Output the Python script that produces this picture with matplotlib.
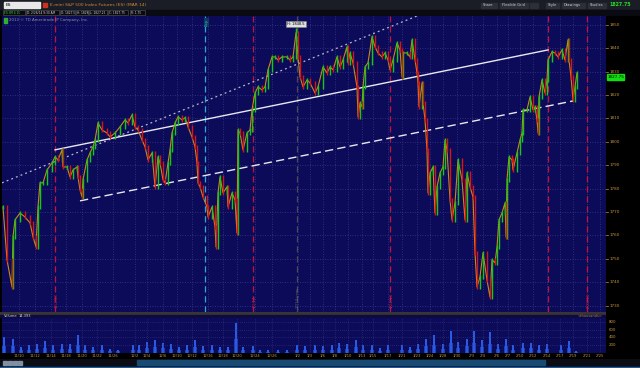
import numpy as np
import matplotlib.pyplot as plt
from matplotlib.patches import Rectangle

W, H = 640, 368

# price path: chart column -> close (index points)
bar_x = [3, 7, 12, 13, 15, 20, 25, 30, 33, 36, 38, 40, 43, 47, 52, 55, 58, 62, 63, 67,
         70, 73, 77, 78, 80, 82, 83, 87, 90, 93, 95, 98, 102, 107, 110, 115, 120, 125, 128, 132,
         135, 138, 142, 145, 148, 152, 155, 158, 160, 163, 165, 168, 170, 172, 175, 178, 182, 185, 188, 192,
         195, 197, 198, 200, 203, 207, 208, 212, 215, 216, 218, 220, 223, 227, 228, 232, 235, 237, 238, 240,
         243, 247, 250, 252, 255, 258, 262, 265, 268, 272, 275, 278, 282, 287, 290, 293, 296, 298, 300, 303,
         307, 310, 315, 318, 323, 327, 330, 333, 337, 340, 343, 347, 348, 350, 353, 357, 358, 360, 362, 363,
         365, 368, 372, 375, 378, 382, 385, 388, 390, 393, 397, 400, 402, 403, 407, 410, 412, 415, 417, 418,
         419, 422, 423, 425, 427, 428, 430, 433, 435, 437, 440, 443, 445, 447, 450, 452, 455, 458, 462, 465,
         467, 470, 473, 475, 477, 480, 483, 487, 490, 492, 495, 497, 499, 502, 505, 506, 507, 509, 512, 513,
         517, 520, 522, 523, 527, 530, 533, 535, 537, 538, 539, 542, 545, 547, 548, 552, 555, 558, 562, 565,
         568, 569, 571, 573, 575, 577]
closes = [1772.2, 1749.6, 1738.0, 1759.4, 1766.7, 1769.6, 1767.9, 1765.4, 1759.4, 1755.1,
          1772.2, 1782.5, 1782.5, 1788.0, 1791.0, 1793.6, 1792.3, 1796.6, 1789.3, 1789.3,
          1785.0, 1788.0, 1789.3, 1785.0, 1779.5, 1776.5, 1783.8, 1792.3, 1795.3, 1797.9,
          1800.8, 1808.1, 1805.1, 1803.8, 1802.1, 1803.8, 1806.4, 1809.4, 1808.1, 1811.5,
          1806.4, 1805.1, 1800.8, 1797.9, 1792.3, 1795.3, 1780.8, 1793.6, 1791.0, 1783.8,
          1782.5, 1791.0, 1796.6, 1803.8, 1808.1, 1810.7, 1809.4, 1810.3, 1806.4, 1802.1,
          1797.9, 1791.0, 1782.5, 1780.8, 1776.5, 1772.2, 1767.9, 1772.2, 1763.7, 1755.1,
          1778.2, 1785.0, 1778.2, 1780.8, 1772.2, 1778.2, 1775.2, 1761.1, 1805.1, 1803.8,
          1796.6, 1803.8, 1805.1, 1813.7, 1820.9, 1823.5, 1822.2, 1823.5, 1830.8, 1836.3,
          1836.3, 1835.0, 1836.3, 1836.3, 1835.0, 1836.3, 1846.6, 1836.3, 1827.8, 1823.5,
          1826.5, 1825.2, 1820.9, 1823.5, 1832.0, 1829.5, 1832.0, 1830.8, 1836.3, 1832.0,
          1835.0, 1840.6, 1833.8, 1838.0, 1833.8, 1823.5, 1810.7, 1816.7, 1815.0, 1823.5,
          1832.0, 1833.8, 1844.9, 1840.6, 1838.0, 1836.3, 1838.0, 1835.0, 1830.8, 1835.0,
          1842.3, 1839.3, 1827.8, 1838.0, 1838.0, 1836.3, 1843.6, 1835.0, 1829.5, 1825.2,
          1815.0, 1825.2, 1816.7, 1809.4, 1796.6, 1778.2, 1786.7, 1789.3, 1769.6, 1780.8,
          1786.7, 1789.3, 1800.8, 1796.6, 1775.2, 1766.7, 1773.9, 1792.3, 1783.8, 1766.7,
          1786.7, 1780.8, 1776.5, 1752.6, 1738.0, 1742.3, 1752.6, 1741.0, 1733.7, 1749.6,
          1748.3, 1755.1, 1766.7, 1769.6, 1773.9, 1759.4, 1783.8, 1793.6, 1792.3, 1788.0,
          1795.3, 1800.8, 1803.8, 1813.7, 1813.7, 1819.2, 1813.7, 1815.0, 1809.4, 1803.8,
          1819.2, 1826.5, 1820.9, 1826.5, 1835.0, 1838.5, 1838.0, 1836.3, 1839.3, 1835.0,
          1843.6, 1835.0, 1827.8, 1817.9, 1823.5, 1829.5]

price_ticks = [1730, 1740, 1750, 1760, 1770, 1780, 1790, 1800, 1810, 1820, 1830, 1840, 1850]
last_price = 1827.75
session_high = 1848.5

# trend lines drawn on the chart: (x0, p0, x1, p1)
channel_top = (55, 1796.6, 548, 1839.3)
channel_bottom = (80, 1774.8, 573, 1817.5)
outer_line = (2, 1782.5, 417, 1853.8)

date_x = [19, 35, 51, 66, 82, 97, 113, 135, 147, 163, 177, 192, 208, 223, 237, 255, 272,
          298, 310, 323, 335, 348, 362, 373, 388, 402, 417, 430, 443, 457, 472, 483, 497,
          508, 520, 533, 547, 560, 573, 587, 600]
date_labels = ["11/10", "11/12", "11/14", "11/18", "11/20", "11/22", "11/26", "12/2", "12/4",
               "12/6", "12/10", "12/12", "12/16", "12/18", "12/20", "12/24", "12/26", "1/2", "1/3",
               "1/6", "1/8", "1/10", "1/13", "1/15", "1/17", "1/21", "1/23", "1/24", "1/28",
               "1/30", "2/3", "2/4", "2/6", "2/7", "2/10", "2/12", "2/14", "2/17", "2/19",
               "2/21", "2/25"]

# volume spikes (thousands of contracts)
vol_x = [4, 13, 21, 29, 37, 45, 53, 62, 70, 78, 85, 93, 102, 110, 118, 133, 139, 147, 155, 163,
         171, 179, 187, 195, 203, 212, 220, 228, 236, 243, 253, 260, 268, 278, 287, 297, 305, 315,
         323, 332, 339, 347, 356, 363, 372, 380, 388, 402, 410, 418, 426, 434, 443, 451, 458, 467,
         474, 482, 490, 498, 506, 513, 523, 531, 539, 547, 561, 569, 576]
vol_k = [416, 372, 156, 200, 242, 304, 200, 242, 242, 460, 200, 156, 200, 112, 86, 200, 200,
         286, 346, 260, 242, 156, 200, 330, 174, 200, 156, 156, 780, 156, 174, 70, 70, 70, 70,
         200, 174, 200, 174, 200, 260, 242, 346, 200, 200, 130, 200, 200, 156, 242, 372, 460,
         242, 572, 286, 372, 572, 346, 528, 242, 372, 200, 260, 260, 200, 242, 200, 304, 52]
vol_ticks = [200, 400, 600, 800]

event_red = [55, 253, 390, 548, 587]
event_red_labels = ["12/2/13", "1/2/14", "1/24/14", "", "2/28/14"]
event_cyan = 205
event_gray = 297

BG = "#0c0b5a"
TAN = "#c8963c"
GRID = "#3a3a86"


def add_px(l, t, w, h, **kw):
    return fig.add_axes([l / W, 1 - (t + h) / H, w / W, h / H], **kw)


fig = plt.figure(figsize=(6.4, 3.68), dpi=100, facecolor="#000000")

# ---------- top toolbar and info bar ----------
top = add_px(0, 0, W, 16)
top.set_xlim(0, W)
top.set_ylim(16, 0)
top.axis("off")
top.add_patch(Rectangle((0, 0), W, 9.5, color="#1b1d26"))
top.add_patch(Rectangle((0, 9.5), W, 6.5, color="#0a0a12"))
top.add_patch(Rectangle((4, 2), 36, 5.5, color="#e8e8e8"))
top.text(6, 4.9, "ES", fontsize=3.2, color="black", va="center")
top.add_patch(Rectangle((43, 2.5), 4, 4, color="#d03020"))
top.text(50, 4.9, "E-mini S&P 500 Index Futures (ES) (MAR 14)", fontsize=3.2,
         color="#d08a30", va="center")
# (label, left, width)
buttons = [("Share", 481, 16), ("Flexible Grid", 500, 28), ("", 530, 8), ("Style", 546, 13),
           ("Drawings", 562, 23), ("Studies", 588, 18)]
for b, x, w in buttons:
    top.add_patch(Rectangle((x, 2.5), w, 5, color="#2c2e38"))
    top.text(x + 2, 4.9, b, fontsize=2.6, color="#d0d0d0", va="center")
top.text(609, 4.9, f"{last_price:.2f}", fontsize=3.4, color="#20e020", va="center",
         fontweight="bold")
info = [("ES 3M 4 15", 3, 22, "#30e030"), ("D: 2/26/14 9:30 AM", 26, 33, "#d8d8d8"),
        ("O: 1827.5", 60, 15, "#d8d8d8"), ("H: 1828", 76, 12, "#d8d8d8"),
        ("L: 1827.25", 89, 18, "#d8d8d8"), ("C: 1827.75", 108, 20, "#d8d8d8"),
        ("R: 1.75", 130, 15, "#d8d8d8")]
for txt, x, w, c in info:
    top.add_patch(Rectangle((x, 10.3), w, 5, fill=False, ec="#4a4a50", lw=0.5))
    top.text(x + 0.8, 12.9, txt, fontsize=2.1, color=c, va="center")

# ---------- price panel ----------
ax = add_px(2, 16, 604, 296)
ax.set_facecolor(BG)
ax.set_xlim(2, 606)
ax.set_ylim(1727.3, 1853.8)
for s in ax.spines.values():
    s.set_visible(False)
ax.set_xticks([])
ax.set_yticks([])
for p in price_ticks:
    ax.axhline(p, color=GRID, lw=0.6, ls=(0, (1, 2)))
for x in date_x:
    ax.axvline(x, color=GRID, lw=0.6, ls=(0, (1, 2)))

for x in event_red:
    ax.axvline(x, color="#c0143e", lw=0.9, ls=(0, (5, 3)))
ax.axvline(event_cyan, color="#2aa8d8", lw=0.9, ls=(0, (5, 3)))
ax.axvline(event_gray, color="#4a4a5a", lw=0.9, ls=(0, (5, 3)))
for x, lab in zip(event_red, event_red_labels):
    if lab:
        ax.text(x + 1.5, 1729, lab, rotation=90, fontsize=2.8, color="#c0204a",
                va="bottom", ha="center")
ax.text(event_gray + 1.5, 1729, "2014 year", rotation=90, fontsize=2.8, color="#606070",
        va="bottom", ha="center")
ax.text(event_cyan + 1.5, 1852.5, "Exp", rotation=90, fontsize=2.8, color="#2aa8d8",
        va="top", ha="center", bbox=dict(boxstyle="square,pad=0.2", fc="#103a5a", ec="none"))

x0, p0, x1, p1 = outer_line
ax.plot([x0, x1], [p0, p1], color="#b8b8c8", lw=0.9, ls=(0, (1.5, 2.5)))
x0, p0, x1, p1 = channel_top
ax.plot([x0, x1], [p0, p1], color="#e8e8f0", lw=1.0)
x0, p0, x1, p1 = channel_bottom
ax.plot([x0, x1], [p0, p1], color="#e8e8f0", lw=1.0, ls=(0, (6, 3)))

bx_arr = np.array(bar_x)
cl = np.array(closes)
ax.plot(bx_arr, cl, color="#c88a1c", lw=0.8)
prev = np.r_[cl[0], cl[:-1]]
up = cl >= prev
ax.vlines(bx_arr[up], prev[up] - 0.8, cl[up] + 0.8, color="#14c814", lw=1.0)
ax.vlines(bx_arr[~up], cl[~up] - 0.8, prev[~up] + 0.8, color="#d81414", lw=1.0)

hi = int(np.argmax(cl))
ax.vlines(bx_arr[hi], cl[hi], session_high, color="#14c814", lw=1.0)
ax.annotate(f"H: {session_high}", (bx_arr[hi], session_high), xytext=(0, 2.5),
            textcoords="offset points", fontsize=2.6, ha="center", color="black",
            bbox=dict(boxstyle="square,pad=0.2", fc="#e0e0e0", ec="#808080", lw=0.4))

ax.add_patch(Rectangle((3.5, 1851), 3.5, 2, color="#30b030"))
ax.text(9, 1851.9, "2013 \u00a9 TD Ameritrade IP Company, Inc.", fontsize=2.8, color="#9090a0",
        va="center")

# right price scale
ps = add_px(606, 16, 34, 296)
ps.set_facecolor("black")
ps.set_xlim(0, 34)
ps.set_ylim(1727.3, 1853.8)
ps.axis("off")
for p in price_ticks:
    ps.text(4, p, f"{p}", fontsize=3.0, color=TAN, va="center")
    ps.plot([0, 2], [p, p], color=TAN, lw=0.5)
ps.add_patch(Rectangle((1, last_price - 1.3), 17, 2.6, color="#10e010"))
ps.text(2, last_price, f"{last_price:.2f}", fontsize=3.0, color="black", va="center")

# divider
dv = add_px(0, 312, 606, 6)
dv.axis("off")
dv.set_xlim(0, 606)
dv.set_ylim(6, 0)
dv.add_patch(Rectangle((0, 0), 606, 2.5, color="#3a3434"))
dv.add_patch(Rectangle((0, 2.5), 606, 3.5, color="#0c0b40"))
dv.text(4, 4.3, "Volume", fontsize=2.6, color="#d0d0d0", va="center")
dv.text(19, 4.3, "14,393", fontsize=2.6, color="#d0d0d0", va="center")
dv.text(602, 4.3, "<thousands>", fontsize=2.6, color="#a08050", va="center", ha="right")

# ---------- volume panel ----------
vx = add_px(2, 318, 604, 35)
vx.set_facecolor(BG)
vx.set_xlim(2, 606)
vx.set_ylim(0, 900)
vx.set_xticks([])
vx.set_yticks([])
for s in vx.spines.values():
    s.set_visible(False)
for v in vol_ticks:
    vx.axhline(v, color=GRID, lw=0.5, ls=(0, (1, 2)))
for x in date_x:
    vx.axvline(x, color=GRID, lw=0.5, ls=(0, (1, 2)))
vx.bar(vol_x, np.array(vol_k) * 0.45, width=4.5, color="#1c40b8", edgecolor="none")
vx.bar(vol_x, vol_k, width=1.6, color="#2a5ae8", edgecolor="none")

vs = add_px(606, 318, 34, 35)
vs.set_facecolor("black")
vs.set_xlim(0, 34)
vs.set_ylim(0, 900)
vs.axis("off")
for v in vol_ticks:
    vs.text(3, v, f"{v}", fontsize=2.8, color=TAN, va="center")

# date axis
da = add_px(2, 353, 604, 6)
da.set_facecolor("black")
da.set_xlim(2, 606)
da.set_ylim(0, 1)
da.axis("off")
for x, lab in zip(date_x, date_labels):
    da.text(x, 0.5, lab, fontsize=2.7, color=TAN, ha="center", va="center")

# bottom bar
bb = add_px(0, 359, W, 9)
bb.axis("off")
bb.set_xlim(0, W)
bb.set_ylim(9, 0)
bb.add_patch(Rectangle((0, 0), W, 9, color="#0c0c14"))
bb.add_patch(Rectangle((137, 1), 408, 5, color="#184a72"))
for i in range(4):
    bb.add_patch(Rectangle((3 + i * 5, 1.5), 4, 4, color="#8090a0"))
bb.add_patch(Rectangle((0, 7.5), W, 1.5, color="#1e5a9a"))

fig.savefig("out.png", dpi=100, facecolor=fig.get_facecolor())
